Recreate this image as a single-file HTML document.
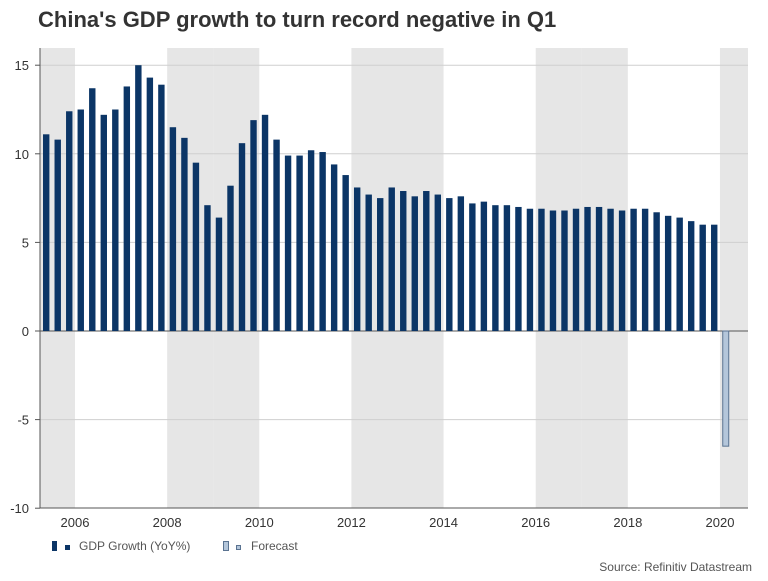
<!DOCTYPE html>
<html><head><meta charset="utf-8"><style>
body{margin:0;background:#fff;font-family:"Liberation Sans",Arial,sans-serif}
</style></head><body>
<svg id="chart" width="768" height="576" xmlns="http://www.w3.org/2000/svg" font-family="Liberation Sans, Arial, sans-serif">
<rect width="768" height="576" fill="#fff"/>
<text x="38" y="27" font-size="22" font-weight="bold" fill="#333">China's GDP growth to turn record negative in Q1</text>
<g id="bands"></g><g id="grid"></g><g id="bars"></g><g id="axes"></g>
<g>
<rect x="52" y="541" width="5" height="10" fill="#0b3566"/><rect x="65" y="545" width="5" height="5" fill="#0b3566"/>
<text x="79" y="550" font-size="12" fill="#555">GDP Growth (YoY%)</text>
<rect x="223.5" y="541.5" width="5" height="9" fill="#b4c6da" stroke="#5a7391"/><rect x="236.5" y="545.5" width="4" height="4" fill="#b4c6da" stroke="#5a7391"/>
<text x="251" y="550" font-size="12" fill="#555">Forecast</text>
</g>
<text x="752" y="571" font-size="12" fill="#555" text-anchor="end">Source: Refinitiv Datastream</text>
</svg>
<script>
const gdpValues=[11.1,10.8,12.4,12.5,13.7,12.2,12.5,13.8,15.0,14.3,13.9,11.5,10.9,9.5,7.1,6.4,8.2,10.6,11.9,12.2,10.8,9.9,9.9,10.2,10.1,9.4,8.8,8.1,7.7,7.5,8.1,7.9,7.6,7.9,7.7,7.5,7.6,7.2,7.3,7.1,7.1,7.0,6.9,6.9,6.8,6.8,6.9,7.0,7.0,6.9,6.8,6.9,6.9,6.7,6.5,6.4,6.2,6.0,6.0];
const forecastValues=[-6.5];
const yTicks=[15,10,5,0,-5,-10];
const xTickYears=[2006,2008,2010,2012,2014,2016,2018,2020];
const grayYears=[2005,2008,2009,2012,2013,2016,2017,2020];
const startYear=2005.25;
const L=40,R=748,T=48,B=508;
const x=yr=>75+(yr-2006)*46.07;
const y=v=>331-v*17.72;
const ns='http://www.w3.org/2000/svg';
function mk(p,t,a){const e=document.createElementNS(ns,t);for(const k in a)e.setAttribute(k,a[k]);document.getElementById(p).appendChild(e);return e;}
grayYears.forEach(g=>{const x0=Math.max(L,x(g)),x1=Math.min(R,x(g+1));
const e=mk('bands','rect',{x:x0,y:T,width:x1-x0,height:B-T,fill:'#e6e6e6'});

});
yTicks.forEach(t=>{if(t!==-10){const g=mk('grid','line',{x1:L,x2:R,y1:y(t),y2:y(t),stroke:t===0?'#555':'#cfcfcf','stroke-width':1});

}
const tl=mk('axes','text',{x:29,y:y(t)+5,'font-size':13,fill:'#333','text-anchor':'end'});tl.textContent=t;


mk('axes','line',{x1:35,x2:L,y1:y(t),y2:y(t),stroke:'#555'});});
mk('axes','line',{x1:L,x2:L,y1:T,y2:B,stroke:'#555'});
mk('axes','line',{x1:L,x2:R,y1:B,y2:B,stroke:'#555'});
xTickYears.forEach(yr=>{const t=mk('axes','text',{x:x(yr),y:527,'font-size':13,fill:'#333','text-anchor':'middle'});t.textContent=yr;

});
gdpValues.forEach((v,i)=>{const c=x(startYear+i*0.25+0.125);
const b=mk('bars','rect',{x:c-3.2,y:Math.min(y(v),y(0)),width:6.4,height:Math.abs(y(v)-y(0)),fill:'#0b3566'});

});
forecastValues.forEach((v,i)=>{const c=x(startYear+(gdpValues.length+i)*0.25+0.125);
const b=mk('bars','rect',{x:c-3,y:Math.min(y(v),y(0)),width:6,height:Math.abs(y(v)-y(0)),fill:'#b4c6da',stroke:'#5a7391'});

});
</script>
</body></html>
